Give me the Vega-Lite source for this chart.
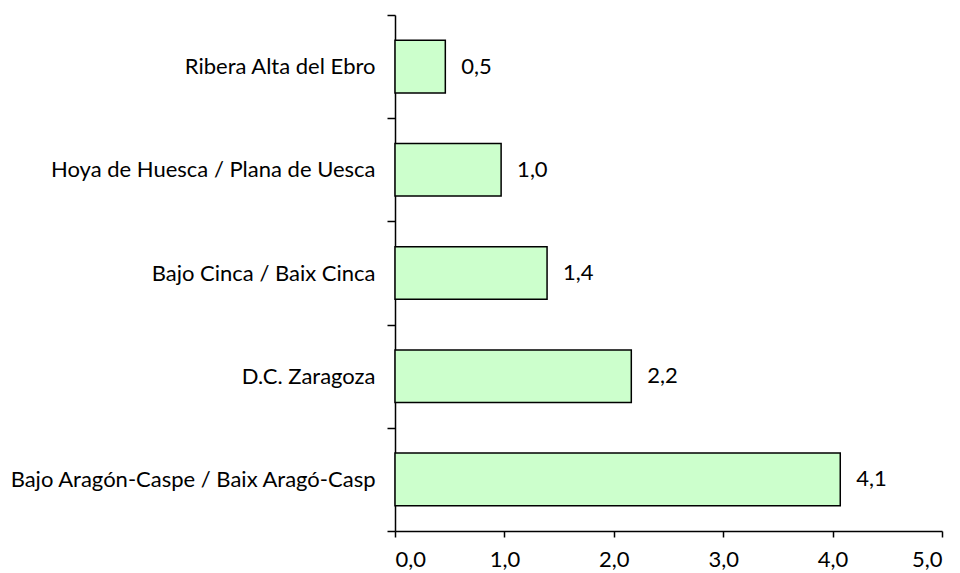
{
  "$schema": "https://vega.github.io/schema/vega-lite/v6.json",
  "width": 547,
  "height": 516,
  "autosize": "none",
  "padding": {"left": 395, "top": 15, "right": 18, "bottom": 42},
  "background": "white",
  "data": {
    "values": [
      {"comarca": "Ribera Alta del Ebro", "valor": 0.46},
      {"comarca": "Hoya de Huesca / Plana de Uesca", "valor": 0.97},
      {"comarca": "Bajo Cinca / Baix Cinca", "valor": 1.39},
      {"comarca": "D.C. Zaragoza", "valor": 2.16},
      {"comarca": "Bajo Aragón-Caspe / Baix Aragó-Casp", "valor": 4.07}
    ]
  },
  "encoding": {
    "y": {
      "field": "comarca",
      "type": "nominal",
      "sort": null,
      "scale": {"paddingInner": 0, "paddingOuter": 0},
      "axis": {
        "title": null,
        "tickBand": "extent",
        "tickSize": 8,
        "tickColor": "black",
        "tickWidth": 1.5,
        "domainColor": "black",
        "domainWidth": 1.5,
        "labelPadding": 12,
        "labelFont": "Lato",
        "labelFontSize": 22,
        "labelColor": "black",
        "labelLimit": 400
      }
    },
    "x": {
      "field": "valor",
      "type": "quantitative",
      "scale": {"domain": [0, 5], "nice": false},
      "axis": {
        "title": null,
        "values": [0, 1, 2, 3, 4, 5],
        "format": ".1f",
        "grid": false,
        "tickSize": 6,
        "tickColor": "black",
        "tickWidth": 1.5,
        "domainColor": "black",
        "domainWidth": 1.5,
        "labelPadding": 12,
        "labelFont": "Lato",
        "labelFontSize": 22,
        "labelColor": "black"
      }
    }
  },
  "layer": [
    {
      "mark": {"type": "bar", "height": {"band": 0.51}, "fill": "#CCFFCC", "stroke": "black", "strokeWidth": 1.5}
    },
    {
      "mark": {"type": "text", "align": "left", "baseline": "middle", "dx": 16, "font": "Lato", "fontSize": 22, "color": "black"},
      "encoding": {
        "text": {"field": "valor", "type": "quantitative", "format": ".1f"}
      }
    }
  ],
  "config": {
    "view": {"stroke": null},
    "locale": {
      "number": {"decimal": ",", "thousands": ".", "grouping": [3], "currency": ["", " €"]}
    }
  }
}
